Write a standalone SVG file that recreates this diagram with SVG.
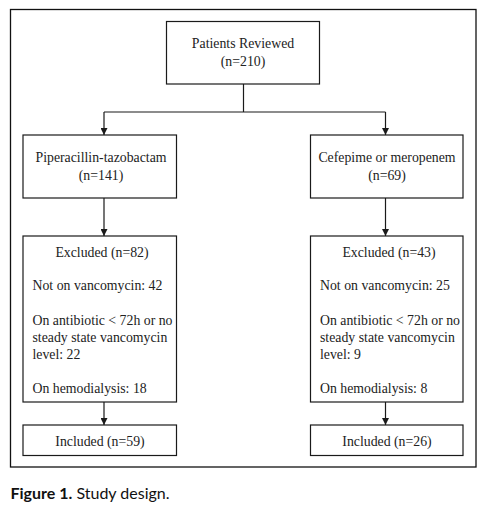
<svg xmlns="http://www.w3.org/2000/svg" width="486" height="508" viewBox="0 0 486 508">
<style>
.box{fill:#fff;stroke:#1a1a1a;stroke-width:1.2}
.t{font-family:"Liberation Serif","DejaVu Serif",serif;font-size:13.8px;fill:#222}
.c{text-anchor:middle}
.ln{stroke:#1a1a1a;stroke-width:1.2;fill:none}
.cap{font-family:Lato,"Open Sans",sans-serif;font-size:16px;fill:#111}
</style>
<defs>
<marker id="ah" viewBox="0 0 10 10" refX="10" refY="5" markerWidth="7" markerHeight="7" markerUnits="userSpaceOnUse" orient="auto">
<path d="M0,0 L10,5 L0,10 z" fill="#1a1a1a"/>
</marker>
</defs>
<rect x="10.5" y="9.5" width="465.5" height="457.5" fill="#fff" stroke="#111" stroke-width="1.3"/>
<g id="connectors">
<path class="ln" d="M243.5,84 V112 M104,112 H385.5"/>
<path class="ln" d="M104,112 V135" marker-end="url(#ah)"/>
<path class="ln" d="M385.5,112 V135" marker-end="url(#ah)"/>
<path class="ln" d="M104,198 V236" marker-end="url(#ah)"/>
<path class="ln" d="M385.5,198 V236" marker-end="url(#ah)"/>
<path class="ln" d="M104,402 V425" marker-end="url(#ah)"/>
<path class="ln" d="M385.5,402 V425" marker-end="url(#ah)"/>
</g>
<g id="reviewed">
<rect class="box" x="166.5" y="21.5" width="153" height="62.5"/>
<text class="t c" x="243" y="47.5">Patients Reviewed</text>
<text class="t c" x="243" y="66">(n=210)</text>
</g>
<g id="pip">
<rect class="box" x="23" y="135" width="153.5" height="63"/>
<text class="t c" x="101" y="162">Piperacillin-tazobactam</text>
<text class="t c" x="101" y="179.5">(n=141)</text>
</g>
<g id="cef">
<rect class="box" x="310.5" y="135" width="152.5" height="63"/>
<text class="t c" x="387" y="162">Cefepime or meropenem</text>
<text class="t c" x="387" y="179.5">(n=69)</text>
</g>
<g id="excl-left">
<rect class="box" x="23" y="236" width="153.5" height="166"/>
<text class="t c" x="102" y="256.5">Excluded (n=82)</text>
<text class="t" x="32.5" y="290">Not on vancomycin: 42</text>
<text class="t" x="32.5" y="324.5">On antibiotic &lt; 72h or no</text>
<text class="t" x="32.5" y="341.8">steady state vancomycin</text>
<text class="t" x="32.5" y="359">level: 22</text>
<text class="t" x="32.5" y="392.6">On hemodialysis: 18</text>
</g>
<g id="excl-right">
<rect class="box" x="310.5" y="236" width="152.5" height="166"/>
<text class="t c" x="389" y="256.5">Excluded (n=43)</text>
<text class="t" x="320" y="290">Not on vancomycin: 25</text>
<text class="t" x="320" y="324.5">On antibiotic &lt; 72h or no</text>
<text class="t" x="320" y="341.8">steady state vancomycin</text>
<text class="t" x="320" y="359">level: 9</text>
<text class="t" x="320" y="392.6">On hemodialysis: 8</text>
</g>
<g id="incl-left">
<rect class="box" x="23" y="425" width="153.5" height="30.5"/>
<text class="t c" x="100" y="446">Included (n=59)</text>
</g>
<g id="incl-right">
<rect class="box" x="310.5" y="425" width="152.5" height="30.5"/>
<text class="t c" x="387" y="446">Included (n=26)</text>
</g>
<text class="cap" x="10.5" y="498.5"><tspan font-weight="bold">Figure 1.</tspan> Study design.</text>
</svg>
